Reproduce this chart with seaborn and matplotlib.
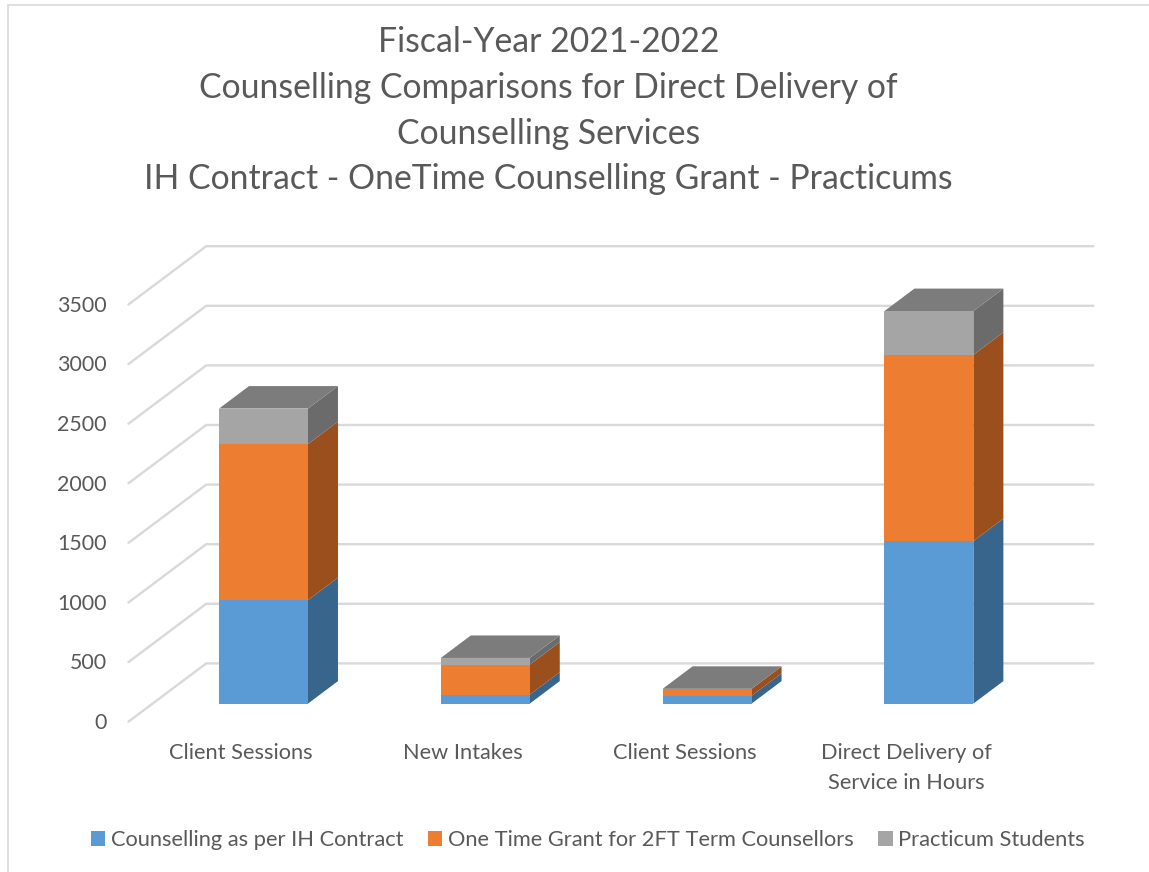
import matplotlib
matplotlib.use("Agg")
import matplotlib.pyplot as plt
import numpy as np
import pandas as pd
import seaborn as sns
from matplotlib.patches import Patch, Rectangle
from matplotlib.transforms import ScaledTranslation

# Service figures for the fiscal year
categories = ["Client Sessions", "New Intakes", "Client Sessions", "Direct Delivery of\nService in Hours"]
ih_contract = [868, 75, 65, 1363]
one_time_grant = [1309, 252, 59, 1563]
practicum = [298, 56, 0, 367]
series_names = ["Counselling as per IH Contract", "One Time Grant for 2FT Term Counsellors", "Practicum Students"]
y_ticks = [0, 500, 1000, 1500, 2000, 2500, 3000, 3500]
title_lines = [
    "Fiscal-Year 2021-2022",
    "Counselling Comparisons for Direct Delivery of",
    "Counselling Services",
    "IH Contract - OneTime Counselling Grant - Practicums",
]

front_colors = ["#5B9BD5", "#ED7D31", "#A5A5A5"]
side_colors = ["#38658B", "#9A4F1C", "#6B6B6B"]
top_color = "#7C7C7C"
grid_color = "#D9D9D9"
text_color = "#595959"

W, H = 1149, 872
sns.set_theme(style="white")
plt.rcParams["font.family"] = ["Lato", "DejaVu Sans"]

fig = plt.figure(figsize=(W / 100, H / 100), dpi=100, facecolor="white")
ax_left, ax_right, ax_bottom, ax_top = 152.6, 1039.8, 703.6, 286.4
ax = fig.add_axes([ax_left / W, 1 - ax_bottom / H, (ax_right - ax_left) / W, (ax_bottom - ax_top) / H])
ax.patch.set_visible(False)

# Outer chart frame, running off the right and bottom edges
fig.add_artist(Rectangle((8 / W, -0.05), 1.2, 1.05 - 5 / H, transform=fig.transFigure,
                         fill=False, edgecolor=grid_color, linewidth=1.2))

# Stacks drawn tallest first so each lower segment overdraws the one above
positions = np.arange(len(categories))
segments = np.array([ih_contract, one_time_grant, practicum], dtype=float)
cumulative = np.cumsum(segments, axis=0)
bar_width = 0.401
for i in [2, 1, 0]:
    frame = pd.DataFrame({"pos": positions, "total": cumulative[i]})
    sns.barplot(data=frame, x="pos", y="total", color=front_colors[i], saturation=1,
                width=bar_width, ax=ax, zorder=4, linewidth=0)

ax.set_xlim(-0.5, 3.5)
ax.set_ylim(0, 3500)
ax.set_xlabel("")
ax.set_ylabel("")
sns.despine(ax=ax, left=True, bottom=True)

# Oblique projection expressed in data units: one unit of depth is the bar depth
x_per_depth = 30 / ((ax_right - ax_left) / 4)
y_per_depth = 22.5 * 3500 / (ax_bottom - ax_top)


def project(x, value, depth):
    return x + depth * x_per_depth, value + depth * y_per_depth


# Floor edge and back wall of every gridline
floor_front, wall_back = -0.804, 1.787
for v in y_ticks:
    x0, y0 = project(-0.5, v, floor_front)
    x1, y1 = project(-0.5, v, wall_back)
    x2, y2 = project(3.5, v, wall_back)
    ax.plot([x0, x1, x2], [y0, y1, y2], color=grid_color, lw=1.7, zorder=1,
            clip_on=False, solid_joinstyle="miter")

# Side and top faces of each stack
for p in positions:
    right = p + bar_width / 2
    left = p - bar_width / 2
    lower = 0.0
    for i in range(3):
        upper = cumulative[i][p]
        pts = [project(right, lower, 0), project(right, lower, 1),
               project(right, upper, 1), project(right, upper, 0)]
        ax.fill(*zip(*pts), color=side_colors[i], lw=0, zorder=3, clip_on=False)
        lower = upper
    top = [project(left, lower, 0), project(right, lower, 0),
           project(right, lower, 1), project(left, lower, 1)]
    ax.fill(*zip(*top), color=top_color, lw=0, zorder=3, clip_on=False)

# Axis labels sit at the front of the floor, so shift them off the axes position
ax.set_xticks(positions, categories)
ax.set_yticks(y_ticks, [str(v) for v in y_ticks])
ax.tick_params(axis="x", length=0, pad=28.6, labelsize=15.7, labelcolor=text_color)
ax.tick_params(axis="y", length=0, pad=33, labelsize=15.4, labelcolor=text_color)
for lbl in ax.get_xticklabels():
    lbl.set_linespacing(1.58)
    lbl.set_transform(lbl.get_transform() + ScaledTranslation(-22.5 / 100, 0, fig.dpi_scale_trans))
for lbl in ax.get_yticklabels():
    lbl.set_transform(lbl.get_transform() + ScaledTranslation(0, -17.3 / 100, fig.dpi_scale_trans))

fig.text(548.5 / W, 1 - 26 / H, "\n".join(title_lines), ha="center", va="top",
         fontsize=24.3, color=text_color, linespacing=1.53)

handles = [Patch(color=c, lw=0) for c in front_colors]
fig.legend(handles, series_names, loc="center", bbox_to_anchor=(588 / W, 1 - 840 / H), ncol=3,
           frameon=False, fontsize=15.75, labelcolor=text_color, handlelength=0.65, handleheight=0.65,
           handletextpad=0.26, columnspacing=1.13, borderpad=0, borderaxespad=0)

fig.savefig("out.png", dpi=100)
